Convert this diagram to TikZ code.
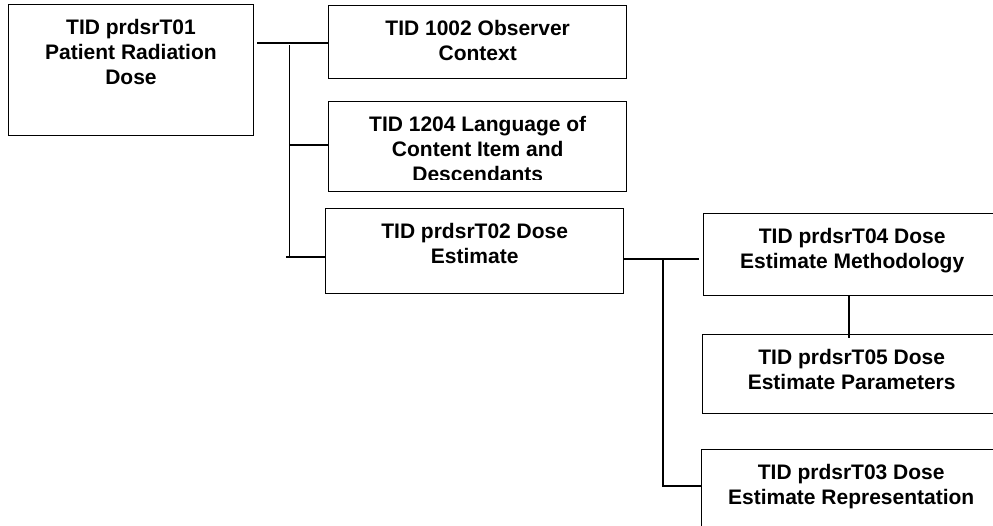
\documentclass[tikz,border=0pt]{standalone}
\usepackage{fontspec}
\setmainfont{Liberation Sans}
\usepackage{tikz}
\usetikzlibrary{calc}
\tikzset{
  tidbox/.style={draw=black,line width=1.4pt,inner sep=0pt,anchor=north west},
  tidtext/.style={anchor=north,align=center,inner sep=0pt,yshift=-15pt,
    font=\fontsize{21}{25}\selectfont\bfseries},
  link/.style={line width=1.8pt}
}

\begin{document}
\begin{tikzpicture}[x=1pt,y=-1pt]
    \useasboundingbox (0,0) rectangle (993,525);
    \clip (0,0) rectangle (993,525);
    \node[tidbox,minimum width=245.5pt,minimum height=131pt] (t01) at (7.5,4) {};
    \node[tidbox,minimum width=298pt,minimum height=73pt] (t1002) at (328,5) {};
    \node[tidbox,minimum width=298pt,minimum height=90pt] (t1204) at (328,101) {};
    \node[tidbox,minimum width=298pt,minimum height=85pt] (t02) at (325,208) {};
    \node[tidbox,minimum width=297pt,minimum height=82pt] (t04) at (703,213) {};
    \node[tidbox,minimum width=298pt,minimum height=79pt] (t05) at (702,334) {};
    \node[tidbox,minimum width=299pt,minimum height=95pt] (t03) at (701,449) {};
    \node[tidtext] (t01txt) at (t01.north) {TID prdsrT01\\Patient Radiation\\Dose};
    \node[tidtext] (t1002txt) at (t1002.north) {TID 1002 Observer\\Context};
    \begin{scope}
      \clip (t1204.north west) rectangle ($(t1204.south east)+(0,-13)$);
      \node[tidtext] (t1204txt) at (t1204.north) {TID 1204 Language of\\Content Item and\\Descendants};
    \end{scope}
    \node[tidtext] (t02txt) at (t02.north) {TID prdsrT02 Dose\\Estimate};
    \node[tidtext] (t04txt) at (t04.north) {TID prdsrT04 Dose\\Estimate Methodology};
    \node[tidtext] (t05txt) at (t05.north) {TID prdsrT05 Dose\\Estimate Parameters};
    \node[tidtext] (t03txt) at (t03.north) {TID prdsrT03 Dose\\Estimate Representation};
    \coordinate (ta) at (289.5,45);
    \coordinate (tb) at (286,257);
    \coordinate (tc) at (663,259);
    \coordinate (td) at (663,486);
    \draw[link] ($(t01.east |- 0,43)+(3,0)$) -- (t1002.west |- 0,43);
    \draw[link] (ta) -- (ta |- tb);
    \draw[link] (ta |- 0,145) -- (t1204.west |- 0,145);
    \draw[link] (tb) -- (t02.west |- tb);
    \draw[link] (t02.east |- tc) -- ($(t04.west |- tc)+(-4.5,0)$);
    \draw[link] (tc) -- (td) -- (t03.west |- td);
    \draw[link] (t04.south -| 849,0) -- ($(t05.north -| 849,0)+(0,4)$);
\end{tikzpicture}
\end{document}
